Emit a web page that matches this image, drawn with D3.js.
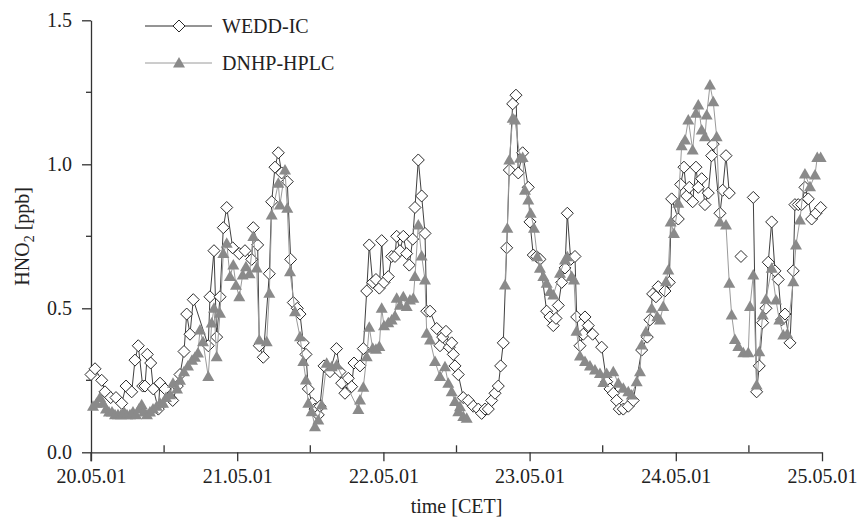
<!DOCTYPE html>
<html>
<head>
<meta charset="utf-8">
<script src="https://cdn.jsdelivr.net/npm/d3@7"></script>
<style>
  html, body { margin: 0; padding: 0; background: #fff; }
  svg { display: block; }
  text { font-family: "Liberation Serif", "Times New Roman", serif; fill: #222; }
</style>
</head>
<body>
<svg id="chart" width="860" height="520"></svg>
<script>
// Hours since 20.05.01 00:00 CET; null marks a gap in the record.
const wTime = [0.0,0.66,1.76,2.30,3.23,4.10,5.04,5.75,6.68,7.22,7.76,8.49,8.86,9.24,9.80,10.23,11.05,11.33,12.15,12.97,13.41,14.17,14.61,15.27,15.71,16.25,16.79,19.25,19.53,20.19,20.63,21.18,21.72,22.28,23.26,24.34,25.28,26.38,26.64,27.36,27.63,28.28,29.27,29.66,30.20,30.75,31.30,32.22,32.78,33.21,33.86,34.31,34.85,35.29,35.67,36.28,36.77,37.31,37.59,38.25,39.23,40.30,40.87,41.15,41.69,42.24,42.79,43.17,44.16,44.70,45.26,45.68,46.24,46.78,47.33,47.72,48.10,48.80,49.36,49.90,50.18,50.72,51.27,51.82,52.25,52.81,53.18,53.73,54.28,54.83,55.11,55.65,56.75,57.29,57.73,58.27,58.82,59.21,59.47,59.75,60.29,61.11,61.93,62.76,63.58,64.13,64.68,65.22,65.77,66.32,66.86,67.25,67.68,68.24,68.67,69.22,69.76,70.14,70.86,71.78,72.06,72.60,73.16,73.70,74.80,75.35,75.89,76.33,76.71,77.27,77.81,78.19,78.74,79.45,79.73,80.27,80.81,81.09,81.63,82.35,83.83,84.65,85.19,85.74,86.29,86.72,87.38,88.20,89.02,90.40,91.32,91.76,92.20,92.74,93.12,94.22,94.93,95.32,96.41,96.80,97.34,97.79,98.21,98.77,99.31,99.69,100.25,100.79,101.33,101.89,102.15,103.25,103.69,104.24,104.78,105.7,106.70,107.7,108.72,109.27,109.70,110.26,110.80,111.18,111.74,112.28,112.82,113.38,113.92,114.74,115.28,115.56,116.10,116.66,117.20,117.75,118.30,119.01,119.78];
const wValue = [0.27,0.29,0.25,0.21,0.19,0.19,0.17,0.23,0.21,0.32,0.37,0.23,0.23,0.34,0.31,0.22,0.15,0.24,0.22,0.19,0.18,0.23,0.27,0.35,0.48,0.41,0.53,0.37,0.54,0.70,0.40,0.54,0.78,0.85,0.71,0.69,0.70,0.67,0.78,0.72,0.37,0.33,0.62,0.87,0.99,1.04,0.97,0.94,0.67,0.52,0.50,0.48,0.38,0.34,0.22,0.17,0.15,0.13,0.16,0.30,0.28,0.36,0.28,0.24,0.205,0.257,0.228,0.31,0.30,0.36,0.56,0.72,0.59,0.60,0.57,0.735,0.59,0.61,0.68,0.68,0.75,0.70,0.75,0.69,0.65,0.74,0.85,1.015,0.89,0.76,0.49,0.49,0.43,0.37,0.40,0.42,0.365,0.38,0.34,0.30,0.27,0.19,0.18,0.16,0.15,0.135,0.15,0.15,0.18,0.205,0.23,0.30,0.38,0.71,0.98,1.21,1.24,0.97,1.04,0.92,0.80,0.685,0.68,0.67,0.49,0.47,0.44,0.465,0.51,0.59,0.64,0.83,0.67,0.68,0.47,0.37,0.41,0.47,0.44,0.41,0.365,0.245,0.22,0.205,0.18,0.15,0.15,0.16,0.18,0.355,0.40,0.46,0.55,0.54,0.575,0.56,0.59,0.88,0.81,0.93,0.99,0.89,0.92,0.87,0.99,0.92,0.95,0.86,0.90,1.03,1.07,0.83,0.91,1.03,0.90,null,0.68,null,0.885,0.21,0.30,0.45,0.50,0.66,0.80,0.63,0.60,0.46,0.48,0.38,0.63,0.86,0.86,0.86,0.92,0.88,0.81,0.83,0.85];

const dTime = [0.33,0.90,1.48,1.97,2.46,2.95,3.45,3.94,4.43,4.92,5.42,5.91,6.40,6.89,7.39,7.88,8.32,8.70,9.19,9.68,10.18,10.78,11.33,11.82,12.31,12.97,13.46,14.12,14.61,15.27,15.92,16.58,17.07,17.56,17.89,18.38,19.25,19.81,20.19,20.63,21.18,21.72,22.28,22.82,23.36,23.80,24.34,24.90,25.44,26.02,26.64,27.20,27.63,28.84,29.27,29.66,30.75,31.02,31.85,32.22,32.67,33.49,34.31,34.85,35.29,35.67,36.23,36.77,37.31,37.87,38.69,39.51,40.33,43.88,44.16,44.70,45.26,45.68,46.24,46.78,47.33,47.72,48.10,48.80,49.36,49.90,50.18,50.72,51.27,51.82,52.36,52.91,53.18,53.73,54.28,54.83,55.11,55.65,56.47,57.29,58.11,58.65,59.21,59.75,60.29,60.57,61.11,61.67,64.8,67.96,68.34,68.67,69.22,69.60,70.42,70.86,71.24,71.78,72.18,72.72,73.26,73.70,74.25,74.80,75.35,75.89,76.99,77.81,78.19,78.91,79.29,79.70,80.27,81.09,81.91,82.73,83.55,84.10,84.65,85.74,86.56,87.38,88.20,88.76,89.58,90.12,90.40,91.10,92.04,92.96,93.40,93.94,94.39,94.77,95.16,95.70,96.41,96.96,97.51,98.05,98.77,99.31,99.69,100.25,100.79,101.07,101.61,102.15,102.71,103.25,104.24,104.78,105.17,105.71,106.26,107.08,107.90,108.18,108.72,109.27,109.70,110.26,110.80,111.74,112.44,112.99,113.64,114.30,115.28,115.73,116.38,117.20,118.03,118.85,119.22,119.78];
const dValue = [0.16,0.17,0.19,0.17,0.15,0.14,0.14,0.13,0.13,0.13,0.14,0.13,0.13,0.14,0.13,0.15,0.165,0.14,0.13,0.14,0.15,0.16,0.17,0.17,0.19,0.20,0.24,0.22,0.25,0.28,0.30,0.32,0.33,0.345,0.425,0.384,0.263,0.449,0.50,0.332,0.483,0.69,0.726,0.61,0.65,0.58,0.54,0.616,0.644,0.62,0.749,0.64,0.39,0.384,0.552,0.824,0.934,0.859,0.98,0.847,0.627,0.488,0.401,0.315,0.251,0.17,0.141,0.089,0.112,0.164,0.309,0.297,0.303,0.149,0.182,0.226,0.332,0.434,0.361,0.358,0.367,0.50,0.439,0.45,0.459,0.473,0.535,0.511,0.54,0.506,0.529,0.535,0.61,0.789,0.682,0.598,0.413,0.39,0.315,0.263,0.297,0.24,0.21,0.176,0.141,0.158,0.124,0.118,null,0.581,0.778,1.015,1.16,1.154,1.021,1.024,0.91,0.876,0.83,0.778,0.679,0.639,0.61,0.587,0.558,0.546,0.622,0.668,0.679,0.61,0.598,0.42,0.334,0.315,0.30,0.286,0.274,0.242,0.274,0.28,0.24,0.222,0.21,0.199,0.245,0.28,0.373,0.419,0.50,0.471,0.459,0.506,0.592,0.633,0.80,0.76,0.865,1.064,1.084,1.154,1.05,1.177,1.206,1.119,1.096,1.171,1.275,1.217,1.096,0.80,0.789,0.587,0.477,0.392,0.367,0.346,0.346,0.506,0.616,0.234,0.349,0.477,0.531,0.639,0.529,0.459,0.407,0.411,0.592,0.72,0.807,0.966,0.922,0.963,1.024,1.024];

const xTickHours = [0, 24, 48, 72, 96, 120];
const xTickLabels = ["20.05.01", "21.05.01", "22.05.01", "23.05.01", "24.05.01", "25.05.01"];
const xMinorHours = [12, 36, 60, 84, 108];
const yTicks = [0.0, 0.5, 1.0, 1.5];
const yMinor = [0.25, 0.75, 1.25];
const seriesNames = ["WEDD-IC", "DNHP-HPLC"];

const svg = d3.select("#chart");
const x = d3.scaleLinear().domain([0, 120]).range([91, 822]);
const y = d3.scaleLinear().domain([0, 1.5]).range([452.3, 20.3]);

const axisColor = "#333";
const fontSize = 20;

// Axes
const xAxis = d3.axisBottom(x).tickValues(xTickHours)
  .tickFormat((d, i) => xTickLabels[i]).tickSizeInner(9).tickSizeOuter(0).tickPadding(8);
const gx = svg.append("g").attr("transform", `translate(0,${y(0)})`).call(xAxis);
gx.selectAll("text").style("font-size", fontSize + "px").style("font-family", "Liberation Serif").attr("fill", "#222");
gx.selectAll("line, path").attr("stroke", axisColor).attr("stroke-width", 1.3);
// minor x ticks point inward
gx.selectAll(".minor").data(xMinorHours).enter().append("line")
  .attr("x1", d => x(d)).attr("x2", d => x(d)).attr("y1", 0).attr("y2", -7)
  .attr("stroke", axisColor).attr("stroke-width", 1.3);

const yAxis = d3.axisLeft(y).tickValues(yTicks).tickFormat(d3.format(".1f"))
  .tickSizeInner(9).tickSizeOuter(0).tickPadding(10);
const gy = svg.append("g").attr("transform", `translate(${x(0)},0)`).call(yAxis);
gy.selectAll("text").style("font-size", fontSize + "px").style("font-family", "Liberation Serif").attr("fill", "#222");
gy.selectAll("line, path").attr("stroke", axisColor).attr("stroke-width", 1.3);
gy.selectAll(".minor").data(yMinor).enter().append("line")
  .attr("x1", 0).attr("x2", -5).attr("y1", d => y(d)).attr("y2", d => y(d))
  .attr("stroke", axisColor).attr("stroke-width", 1.3);
// lower extension of the y axis to meet the first date tick
svg.append("line").attr("x1", x(0)).attr("x2", x(0)).attr("y1", y(0)).attr("y2", y(0) + 9)
  .attr("stroke", axisColor).attr("stroke-width", 1.3);

// Axis titles
svg.append("text").attr("x", (x(0) + x(120)) / 2).attr("y", 513)
  .attr("text-anchor", "middle").style("font-size", fontSize + "px").text("time [CET]");
const yt = svg.append("text").attr("transform", `translate(29,${(y(0) + y(1.5)) / 2}) rotate(-90)`)
  .attr("text-anchor", "middle").style("font-size", fontSize + "px");
yt.append("tspan").text("HNO");
yt.append("tspan").attr("dy", 5).style("font-size", "14px").text("2");
yt.append("tspan").attr("dy", -5).text(" [ppb]");

// Series
const wPts = wTime.map((t, i) => ({ t, v: wValue[i] }));
const dPts = dTime.map((t, i) => ({ t, v: dValue[i] }));
const line = d3.line().defined(d => d.v != null).x(d => x(d.t)).y(d => y(d.v));

const diamond = "M0,-6L6,0L0,6L-6,0Z";
const triangle = "M0,-6L6,4.5L-6,4.5Z";

// WEDD-IC
svg.append("path").datum(wPts).attr("d", line)
  .attr("fill", "none").attr("stroke", "#2a2a2a").attr("stroke-width", 0.9);
svg.append("g").selectAll("path").data(wPts.filter(d => d.v != null)).enter().append("path")
  .attr("d", diamond).attr("transform", d => `translate(${x(d.t)},${y(d.v)})`)
  .attr("fill", "#fff").attr("stroke", "#2a2a2a").attr("stroke-width", 1);

// DNHP-HPLC
svg.append("path").datum(dPts).attr("d", line)
  .attr("fill", "none").attr("stroke", "#9a9a9a").attr("stroke-width", 1);
svg.append("g").selectAll("path").data(dPts.filter(d => d.v != null)).enter().append("path")
  .attr("d", triangle).attr("transform", d => `translate(${x(d.t)},${y(d.v)})`)
  .attr("fill", "#8a8a8a");

// Legend
const legend = [
  { name: seriesNames[0], yy: 26, stroke: "#2a2a2a", shape: diamond, fill: "#fff", mStroke: "#2a2a2a" },
  { name: seriesNames[1], yy: 63, stroke: "#9a9a9a", shape: triangle, fill: "#8a8a8a", mStroke: "none" }
];
const lg = svg.append("g");
legend.forEach(l => {
  lg.append("line").attr("x1", 145).attr("x2", 212).attr("y1", l.yy).attr("y2", l.yy)
    .attr("stroke", l.stroke).attr("stroke-width", 1);
  lg.append("path").attr("d", l.shape).attr("transform", `translate(179,${l.yy})`)
    .attr("fill", l.fill).attr("stroke", l.mStroke).attr("stroke-width", 1);
  lg.append("text").attr("x", 222).attr("y", l.yy + 7).style("font-size", fontSize + "px").text(l.name);
});
</script>
</body>
</html>
